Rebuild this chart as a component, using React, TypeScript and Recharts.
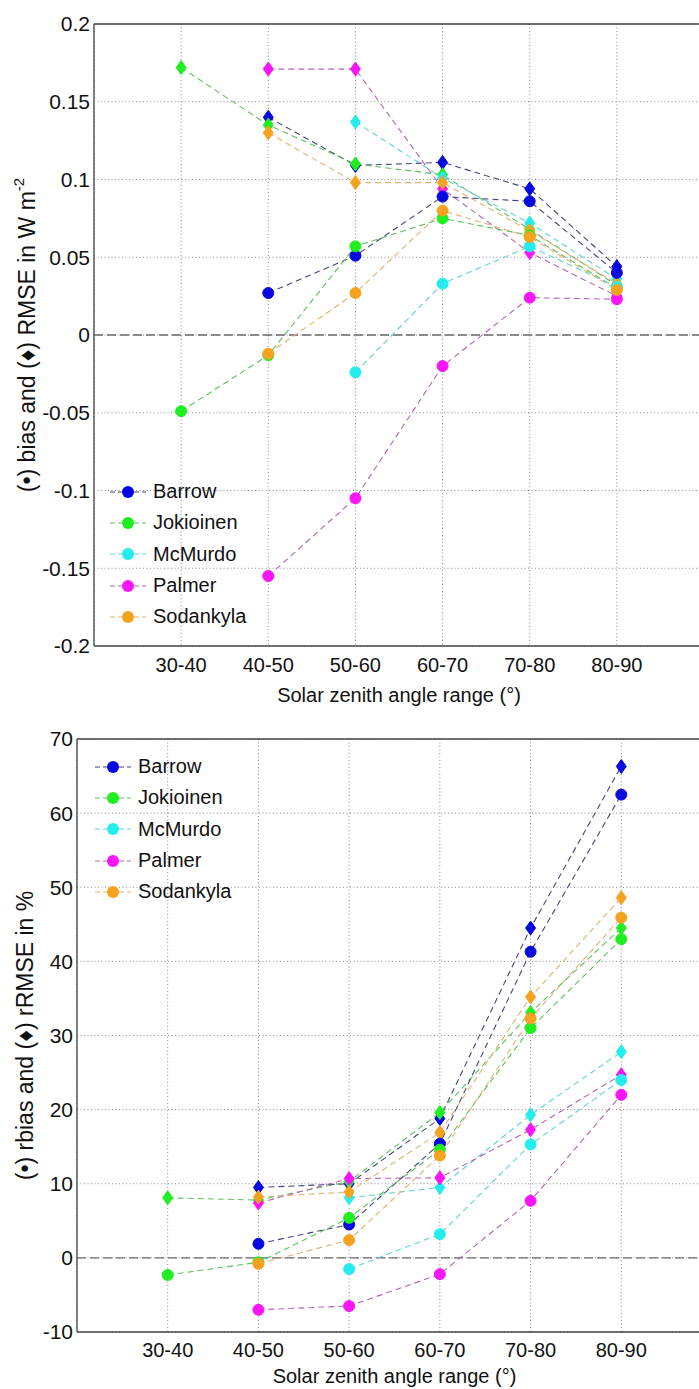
import React from 'react';
import { LineChart, Line, XAxis, YAxis, CartesianGrid, ReferenceLine, Legend } from 'recharts';

const FONT = "'Liberation Sans', Arial, sans-serif";

const CATS = ['30-40', '40-50', '50-60', '60-70', '70-80', '80-90'];
const X_TICKS = [3, 4, 5, 6, 7, 8];
const STATIONS = ['Barrow', 'Jokioinen', 'McMurdo', 'Palmer', 'Sodankyla'];
const MARKER_COLORS = ['#0707e0', '#1fee1f', '#25eded', '#fa14fa', '#f5a21f'];
const LINE_COLORS = ['#45457e', '#5cc05c', '#62d2d2', '#b464b4', '#e2b272'];

// top panel: bias (circles) and RMSE (diamonds), W m-2
const barrowBias = [null, 0.027, 0.051, 0.089, 0.086, 0.040];
const barrowRmse = [null, 0.140, 0.109, 0.111, 0.094, 0.044];
const jokioinenBias = [-0.049, -0.013, 0.057, 0.075, 0.064, 0.030];
const jokioinenRmse = [0.172, 0.135, 0.110, 0.103, 0.068, 0.032];
const mcmurdoBias = [null, null, -0.024, 0.033, 0.057, 0.031];
const mcmurdoRmse = [null, null, 0.137, 0.101, 0.072, 0.036];
const palmerBias = [null, -0.155, -0.105, -0.020, 0.024, 0.023];
const palmerRmse = [null, 0.171, 0.171, 0.094, 0.053, 0.025];
const sodankylaBias = [null, -0.012, 0.027, 0.080, 0.063, 0.029];
const sodankylaRmse = [null, 0.130, 0.098, 0.098, 0.067, 0.033];
const TOP_Y_TICKS = [-0.2, -0.15, -0.1, -0.05, 0, 0.05, 0.1, 0.15, 0.2];

// bottom panel: rbias (circles) and rRMSE (diamonds), %
const barrowRbias = [null, 1.9, 4.5, 15.4, 41.3, 62.5];
const barrowRrmse = [null, 9.5, 10.0, 18.8, 44.5, 66.3];
const jokioinenRbias = [-2.3, -0.6, 5.4, 14.6, 31.0, 43.0];
const jokioinenRrmse = [8.1, 7.8, 10.3, 19.6, 33.1, 44.5];
const mcmurdoRbias = [null, null, -1.5, 3.2, 15.3, 24.0];
const mcmurdoRrmse = [null, null, 8.1, 9.5, 19.3, 27.8];
const palmerRbias = [null, -7.0, -6.5, -2.2, 7.7, 22.0];
const palmerRrmse = [null, 7.4, 10.7, 10.8, 17.3, 24.7];
const sodankylaRbias = [null, -0.8, 2.4, 13.8, 32.3, 45.9];
const sodankylaRrmse = [null, 8.2, 8.9, 16.9, 35.2, 48.6];
const BOTTOM_Y_TICKS = [-10, 0, 10, 20, 30, 40, 50, 60, 70];

const TOP_BIAS = [barrowBias, jokioinenBias, mcmurdoBias, palmerBias, sodankylaBias];
const TOP_RMSE = [barrowRmse, jokioinenRmse, mcmurdoRmse, palmerRmse, sodankylaRmse];
const BOT_BIAS = [barrowRbias, jokioinenRbias, mcmurdoRbias, palmerRbias, sodankylaRbias];
const BOT_RMSE = [barrowRrmse, jokioinenRrmse, mcmurdoRrmse, palmerRrmse, sodankylaRrmse];

const buildRows = (bias: (number | null)[][], rmse: (number | null)[][]) =>
  CATS.map((_, i) => {
    const row: any = { x: i + 3 };
    STATIONS.forEach((s, k) => {
      row[s + '_b'] = bias[k][i];
      row[s + '_r'] = rmse[k][i];
    });
    return row;
  });

const circleDot = (color: string) => (p: any) =>
  p.value == null || p.cy == null ? (
    <g key={'c' + p.index} />
  ) : (
    <circle key={'c' + p.index} cx={p.cx} cy={p.cy} r={5.5} fill={color} stroke={color} strokeWidth={1} />
  );

const diamondDot = (color: string) => (p: any) =>
  p.value == null || p.cy == null ? (
    <g key={'d' + p.index} />
  ) : (
    <polygon
      key={'d' + p.index}
      points={`${p.cx},${p.cy - 7} ${p.cx + 5},${p.cy} ${p.cx},${p.cy + 7} ${p.cx - 5},${p.cy}`}
      fill={color}
      stroke={color}
      strokeWidth={1}
    />
  );

const LegendBox = () => (
  <div style={{ fontFamily: FONT, fontSize: 20, color: '#111' }}>
    {STATIONS.map((s, k) => (
      <div key={s} style={{ display: 'flex', alignItems: 'center', height: 31.3 }}>
        <svg width={40} height={20}>
          <line x1={2} x2={38} y1={10} y2={10} stroke={LINE_COLORS[k]} strokeDasharray="5 3" />
          <circle cx={20} cy={10} r={6} fill={MARKER_COLORS[k]} />
        </svg>
        <span style={{ marginLeft: 5 }}>{s}</span>
      </div>
    ))}
  </div>
);

interface PanelProps {
  width: number;
  height: number;
  margin: { top: number; right: number; bottom: number; left: number };
  yAxisWidth: number;
  yDomain: [number, number];
  yTicks: number[];
  rows: any[];
  tickMargin: number;
  xTitleY: number;
  yTitleX: number;
  yTitle: React.ReactNode;
  legendPos: { left: number; top: number };
}

const Panel = (p: PanelProps) => {
  const plotLeft = p.margin.left + p.yAxisWidth;
  const plotRight = p.width - p.margin.right;
  const plotTop = p.margin.top;
  const plotBottom = p.height - p.margin.bottom - 40;
  const xMid = (plotLeft + plotRight) / 2;
  const yMid = (plotTop + plotBottom) / 2;
  return (
    <LineChart width={p.width} height={p.height} data={p.rows} margin={p.margin}>
      <CartesianGrid stroke="#8a8a8a" strokeDasharray="1 2.5" />
      <XAxis
        type="number"
        dataKey="x"
        domain={[2, 9]}
        ticks={X_TICKS}
        interval={0}
        allowDataOverflow
        tickFormatter={(v: number) => CATS[v - 3]}
        tickLine={false}
        tickSize={0}
        tickMargin={p.tickMargin}
        height={40}
        axisLine={{ stroke: '#444', strokeWidth: 1.3 }}
        tick={{ fontSize: 20, fill: '#111', fontFamily: FONT }}
        label={() => (
          <text x={xMid} y={p.xTitleY} textAnchor="middle" fontSize={20} fontFamily={FONT} fill="#111">
            Solar zenith angle range (°)
          </text>
        )}
      />
      <YAxis
        type="number"
        domain={p.yDomain}
        ticks={p.yTicks}
        interval={0}
        allowDataOverflow
        width={p.yAxisWidth}
        tickLine={false}
        tickSize={0}
        tickMargin={4}
        tickFormatter={(v: number) => String(v)}
        axisLine={{ stroke: '#444', strokeWidth: 1.3 }}
        tick={{ fontSize: 21, fill: '#111', fontFamily: FONT }}
        label={() => (
          <text
            x={p.yTitleX}
            y={yMid}
            transform={`rotate(-90 ${p.yTitleX} ${yMid})`}
            textAnchor="middle"
            dominantBaseline="central"
            fontSize={23}
            fontFamily={FONT}
            fill="#111"
          >
            {p.yTitle}
          </text>
        )}
      />
      <ReferenceLine y={p.yDomain[1]} stroke="#444" strokeWidth={1.3} />
      <ReferenceLine y={0} stroke="#6a6a6a" strokeWidth={1.4} strokeDasharray="9 4" />
      {STATIONS.map((s, k) => (
        <Line
          key={s + '_r'}
          dataKey={s + '_r'}
          type="linear"
          stroke={LINE_COLORS[k]}
          strokeWidth={1.1}
          strokeDasharray="6 4"
          dot={diamondDot(MARKER_COLORS[k])}
          activeDot={false}
          isAnimationActive={false}
          legendType="none"
        />
      ))}
      {STATIONS.map((s, k) => (
        <Line
          key={s + '_b'}
          dataKey={s + '_b'}
          type="linear"
          stroke={LINE_COLORS[k]}
          strokeWidth={1.1}
          strokeDasharray="6 4"
          dot={circleDot(MARKER_COLORS[k])}
          activeDot={false}
          isAnimationActive={false}
          legendType="none"
        />
      ))}
      <Legend
        layout="vertical"
        align="center"
        verticalAlign="middle"
        wrapperStyle={{ left: p.legendPos.left, top: p.legendPos.top, width: 220 }}
        content={() => <LegendBox />}
      />
    </LineChart>
  );
};

const topRows = buildRows(TOP_BIAS, TOP_RMSE);
const bottomRows = buildRows(BOT_BIAS, BOT_RMSE);

export default function App() {
  return (
    <div style={{ position: 'absolute', left: 0, top: 0, width: 699, height: 1389, overflow: 'hidden', background: '#fff' }}>
      <div style={{ position: 'absolute', left: 0, top: 0 }}>
        <Panel
          width={720}
          height={712}
          margin={{ top: 24, right: 16, bottom: 26, left: 34 }}
          yAxisWidth={60}
          yDomain={[-0.2, 0.2]}
          yTicks={TOP_Y_TICKS}
          rows={topRows}
          tickMargin={12}
          xTitleY={702}
          yTitleX={27}
          yTitle={
            <>
              (•) bias and (♦) RMSE in W m<tspan dy={-9} fontSize={15}>-2</tspan>
            </>
          }
          legendPos={{ left: 108, top: 476 }}
        />
      </div>
      <div style={{ position: 'absolute', left: 0, top: 690 }}>
        <Panel
          width={720}
          height={699}
          margin={{ top: 49, right: 8, bottom: 17, left: 27 }}
          yAxisWidth={50}
          yDomain={[-10, 70]}
          yTicks={BOTTOM_Y_TICKS}
          rows={bottomRows}
          tickMargin={11}
          xTitleY={693}
          yTitleX={25}
          yTitle="(•) rbias and (♦) rRMSE in %"
          legendPos={{ left: 93, top: 61 }}
        />
      </div>
    </div>
  );
}
